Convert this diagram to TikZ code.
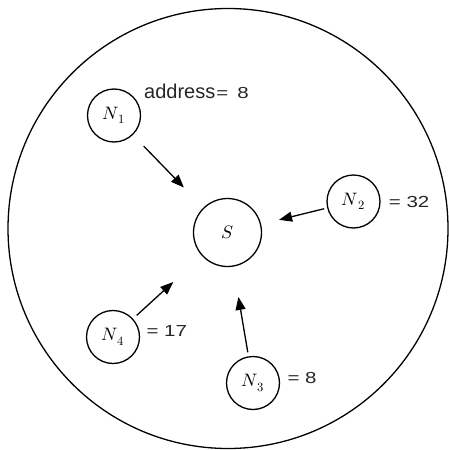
\documentclass[tikz,border=0pt]{standalone}
\usepackage{fontspec}
\setmainfont{Liberation Sans}
\newfontfamily\wf[FakeStretch=1.28]{Liberation Sans}
\newfontfamily\nf{Liberation Sans}
\usepackage{unicode-math}
\setmathfont{Latin Modern Math}
\usetikzlibrary{arrows.meta}
\tikzset{
  nodec/.style={draw, circle, line width=1.3pt, minimum size=53pt, inner sep=0pt, font=\fontsize{18}{18}\selectfont},
  bigc/.style={draw, circle, line width=1.3pt, minimum size=68pt, inner sep=0pt, font=\fontsize{18}{18}\selectfont},
  lab/.style={inner sep=0pt, anchor=base west, text=black!85, font=\wf\fontsize{16}{16}\selectfont},
  arr/.style={line width=1.3pt, -{Triangle[length=13pt,width=10pt]}}
}
\begin{document}
\begin{tikzpicture}[x=1pt,y=-1pt]
\useasboundingbox (0,0) rectangle (449,450);
\draw[line width=1.3pt] (228,228.5) circle[radius=220pt];
\node[bigc] (S) at (227.5,232.5) {$S$};
\node[nodec] (N1) at (114,115.5) {$N_{\,1}$};
\node[nodec] (N2) at (353.5,201.5) {$N_{\,2}$};
\node[nodec] (N3) at (253,383) {$N_{\,3}$};
\node[nodec] (N4) at (113,337) {$N_{\,4}$};
\node[lab] (L1) at (144,98.3) {{\nf\fontsize{20}{20}\selectfont address}\hspace{1pt}=\hspace{9pt}8};
\node[lab] (L2) at (388.7,207.7) {= 32};
\node[lab] (L3) at (146.3,336.7) {= 17};
\node[lab] (L4) at (287.3,383.3) {= 8};
\draw[arr, shorten <=15.5pt, shorten >=28pt] (N1) -- (S);
\draw[arr, shorten <=3pt, shorten >=18.5pt] (N2) -- (S);
\draw[arr, shorten <=4pt, shorten >=30.7pt] (N3) -- (S);
\draw[arr, shorten <=5pt, shorten >=38.8pt] (N4) -- (S);
\end{tikzpicture}
\end{document}
